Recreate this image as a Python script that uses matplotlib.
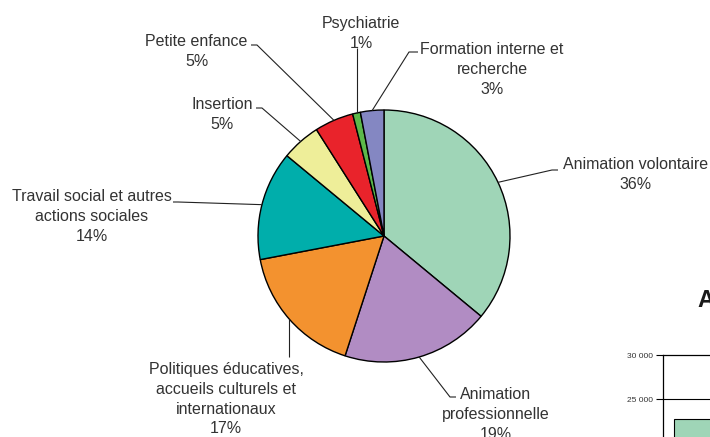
import matplotlib
matplotlib.use("Agg")
import matplotlib.pyplot as plt
import numpy as np

plt.rcParams['font.family'] = ['Liberation Sans', 'DejaVu Sans']

# ---- data ----
categories = ["Animation volontaire", "Animation\nprofessionnelle",
              "Politiques éducatives,\naccueils culturels et\ninternationaux",
              "Travail social et autres\nactions sociales", "Insertion",
              "Petite enfance", "Psychiatrie", "Formation interne et\nrecherche"]
shares = [36, 19, 17, 14, 5, 5, 1, 3]
colors = ["#9fd5b7", "#b18cc3", "#f3922f", "#00aeab", "#eeee99",
          "#e9232b", "#5cb84a", "#8487c2"]

bar_ticks = [25000, 30000]
bar_tick_labels = ["25 000", "30 000"]
bar_values = [22700]

W, H = 710, 437
fig = plt.figure(figsize=(7.1, 4.37), dpi=100)
ax = fig.add_axes([0, 0, 1, 1])

cx, cy, R = 384, 236, 126
wedges, _ = ax.pie(shares, colors=colors, startangle=90, counterclock=False,
                   center=(cx, H - cy), radius=R,
                   wedgeprops=dict(edgecolor="black", linewidth=1.0))
ax.set_xlim(0, W)
ax.set_ylim(0, H)
ax.set_aspect('equal')
ax.axis('off')

txt_color = "#333333"
fs = 11.5
# label layout: (text center x, text top y, elbow, end) in pixels (y down)
layout = [
    (635.5, 158, (552, 170), (558, 170)),
    (496, 388, (450, 397), (456, 397)),
    (226, 363, None, 357),
    (92, 190, (178, 202), (173, 202)),
    (222, 98, (262, 108), (256, 108)),
    (196.5, 35, (257, 45), (251, 45)),
    (361, 17, None, 48),
    (492, 43, (409, 52), (418, 52)),
]

for w, cat, s, (tx, ty, elbow, end) in zip(wedges, categories, shares, layout):
    mid = np.deg2rad((w.theta1 + w.theta2) / 2)
    ax_x = cx + R * np.cos(mid)
    ax_y = (H - cy) + R * np.sin(mid)
    if elbow is None:
        xs = [ax_x, ax_x]
        ys = [ax_y, H - end]
    else:
        xs = [ax_x, elbow[0], end[0]]
        ys = [ax_y, H - elbow[1], H - end[1]]
    ax.plot(xs, ys, color="#222222", lw=0.8, solid_capstyle='butt')
    ax.text(tx, H - ty + 1, f"{cat}\n{s}%", ha='center', va='top',
            fontsize=fs, color=txt_color, linespacing=1.4)

# ---- partial second chart at the right edge ----
px_per_5000 = 44
top_px = 355
ymax = 30000
ymin = 0
h_px = (ymax - ymin) / 5000 * px_per_5000
left_px = 663
w_px = 300
ax2 = fig.add_axes([left_px / W, (H - top_px - h_px) / H, w_px / W, h_px / H])
ax2.set_ylim(ymin, ymax)
ax2.set_xlim(0, 10)
ax2.bar([0.37], bar_values, width=2.0, align='edge', color="#9fd5b7",
        edgecolor="black", linewidth=0.8)
ax2.set_yticks(bar_ticks)
ax2.set_yticklabels(bar_tick_labels, fontsize=6, color="#333333")
ax2.set_xticks([])
ax2.tick_params(axis='y', length=5, width=0.8, direction='out', pad=2)
ax2.axhline(25000, color="black", lw=0.8)
for sp in ['right', 'bottom']:
    ax2.spines[sp].set_visible(False)
for sp in ['left', 'top']:
    ax2.spines[sp].set_linewidth(0.9)

fig.text(697 / W, (H - 307) / H, "A", fontsize=17, fontweight='bold',
         color="#1a1a1a", ha='left', va='baseline')

fig.savefig("out.png", dpi=100)
